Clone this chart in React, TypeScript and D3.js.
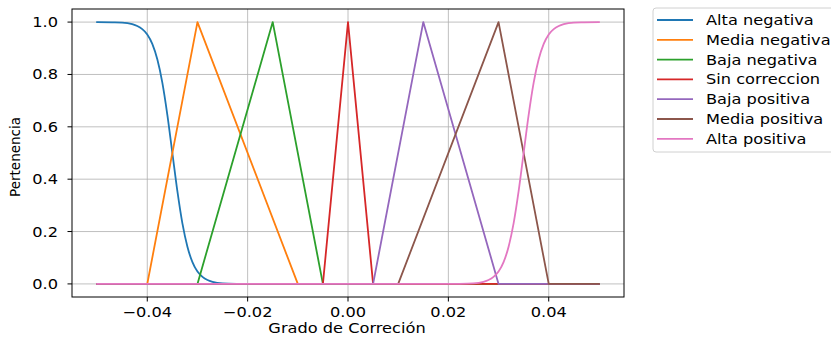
import React from "react";
import * as d3 from "d3";

// ---- data ----
const seriesNames = [
  "Alta negativa",
  "Media negativa",
  "Baja negativa",
  "Sin correccion",
  "Baja positiva",
  "Media positiva",
  "Alta positiva",
];
const seriesColors = ["#1f77b4", "#ff7f0e", "#2ca02c", "#d62728", "#9467bd", "#8c564b", "#e377c2"];

const altaNegX = [-0.05, -0.047, -0.045, -0.043, -0.042, -0.041, -0.04, -0.039, -0.038, -0.037, -0.036, -0.035, -0.034, -0.033, -0.032, -0.031, -0.03, -0.029, -0.028, -0.027, -0.025, -0.022, -0.02, 0.05];
const altaNegY = [1.0, 0.999, 0.998, 0.992, 0.985, 0.973, 0.953, 0.917, 0.858, 0.769, 0.646, 0.5, 0.354, 0.231, 0.142, 0.083, 0.047, 0.027, 0.015, 0.008, 0.002, 0.0004, 0.0001, 0.0];
const mediaNegX = [-0.05, -0.04, -0.03, -0.01, 0.05];
const mediaNegY = [0, 0, 1, 0, 0];
const bajaNegX = [-0.05, -0.03, -0.015, -0.005, 0.05];
const bajaNegY = [0, 0, 1, 0, 0];
const sinCorrX = [-0.05, -0.005, 0.0, 0.005, 0.05];
const sinCorrY = [0, 0, 1, 0, 0];
const bajaPosX = [-0.05, 0.005, 0.015, 0.03, 0.05];
const bajaPosY = [0, 0, 1, 0, 0];
const mediaPosX = [-0.05, 0.01, 0.03, 0.04, 0.05];
const mediaPosY = [0, 0, 1, 0, 0];
const altaPosX = [-0.05, 0.02, 0.022, 0.025, 0.027, 0.028, 0.029, 0.03, 0.031, 0.032, 0.033, 0.034, 0.035, 0.036, 0.037, 0.038, 0.039, 0.04, 0.041, 0.042, 0.043, 0.045, 0.047, 0.05];
const altaPosY = [0.0, 0.0001, 0.0004, 0.002, 0.008, 0.015, 0.027, 0.047, 0.083, 0.142, 0.231, 0.354, 0.5, 0.646, 0.769, 0.858, 0.917, 0.953, 0.973, 0.985, 0.992, 0.998, 0.999, 1.0];

const xTicks = [-0.04, -0.02, 0.0, 0.02, 0.04];
const xTickLabels = ["\u22120.04", "\u22120.02", "0.00", "0.02", "0.04"];
const yTicks = [0.0, 0.2, 0.4, 0.6, 0.8, 1.0];
const yTickLabels = ["0.0", "0.2", "0.4", "0.6", "0.8", "1.0"];
const xLabel = "Grado de Correción";
const yLabel = "Pertenencia";

const seriesX = [altaNegX, mediaNegX, bajaNegX, sinCorrX, bajaPosX, mediaPosX, altaPosX];
const seriesY = [altaNegY, mediaNegY, bajaNegY, sinCorrY, bajaPosY, mediaPosY, altaPosY];
const smoothSeries = [true, false, false, false, false, false, true];

// ---- layout ----
const W = 831;
const H = 337;
const L = 72, R = 624, T = 9, B = 297;
const SX = 1.2; // horizontal stretch of the picture's text
const FS = 13.5;

export default function App() {
  const x = d3.scaleLinear().domain([-0.055, 0.055]).range([L, R]);
  const y = d3.scaleLinear().domain([-0.05, 1.05]).range([B, T]);

  const lineLinear = d3.line<[number, number]>().x((d) => x(d[0])).y((d) => y(d[1]));
  const lineSmooth = d3
    .line<[number, number]>()
    .x((d) => x(d[0]))
    .y((d) => y(d[1]))
    .curve(d3.curveMonotoneX);

  const font = "DejaVu Sans, sans-serif";
  const legX = 653, legY = 8, legRowH = 19.8;

  return (
    <svg
      width={W}
      height={H}
      style={{ position: "fixed", left: 0, top: 0, background: "#fff" }}
      fontFamily={font}
    >
      <rect x={0} y={0} width={W} height={H} fill="#fff" />
      <defs>
        <clipPath id="clip">
          <rect x={L} y={T} width={R - L} height={B - T} />
        </clipPath>
      </defs>
      {/* grid */}
      {xTicks.map((t, i) => (
        <line key={"gx" + i} x1={x(t)} x2={x(t)} y1={T} y2={B} stroke="#b0b0b0" strokeWidth={0.8} />
      ))}
      {yTicks.map((t, i) => (
        <line key={"gy" + i} x1={L} x2={R} y1={y(t)} y2={y(t)} stroke="#b0b0b0" strokeWidth={0.8} />
      ))}
      {/* series */}
      <g clipPath="url(#clip)">
        {seriesX.map((xs, si) => {
          const pts = xs.map((v, k) => [v, seriesY[si][k]] as [number, number]);
          const gen = smoothSeries[si] ? lineSmooth : lineLinear;
          return (
            <path
              key={"s" + si}
              d={gen(pts) || ""}
              fill="none"
              stroke={seriesColors[si]}
              strokeWidth={1.8}
              strokeLinejoin="round"
              strokeLinecap="square"
            />
          );
        })}
      </g>
      {/* spines */}
      <rect x={L} y={T} width={R - L} height={B - T} fill="none" stroke="#000" strokeWidth={1} />
      {/* x ticks */}
      {xTicks.map((t, i) => (
        <g key={"xt" + i}>
          <line x1={x(t)} x2={x(t)} y1={B} y2={B + 4.5} stroke="#000" strokeWidth={1} />
          <text
            transform={`translate(${x(t)},${B + 20}) scale(${SX},1)`}
            textAnchor="middle"
            fontSize={FS}
            fill="#000"
          >
            {xTickLabels[i]}
          </text>
        </g>
      ))}
      {/* y ticks */}
      {yTicks.map((t, i) => (
        <g key={"yt" + i}>
          <line x1={L - 4.5} x2={L} y1={y(t)} y2={y(t)} stroke="#000" strokeWidth={1} />
          <text
            transform={`translate(${L - 14},${y(t) + 5}) scale(${SX},1)`}
            textAnchor="end"
            fontSize={FS}
            fill="#000"
          >
            {yTickLabels[i]}
          </text>
        </g>
      ))}
      {/* axis labels */}
      <text
        transform={`translate(${(L + R) / 2 - 1},${333}) scale(${SX},1)`}
        textAnchor="middle"
        fontSize={FS}
        fill="#000"
      >
        {xLabel}
      </text>
      <text
        transform={`translate(${20},${(T + B) / 2 + 4}) rotate(-90)`}
        textAnchor="middle"
        fontSize={FS}
        fill="#000"
      >
        {yLabel}
      </text>
      {/* legend */}
      <rect
        x={legX}
        y={legY}
        width={200}
        height={144}
        rx={3}
        fill="#fff"
        fillOpacity={0.8}
        stroke="#d0d0d0"
        strokeWidth={1}
      />
      {seriesNames.map((n, i) => {
        const cy = legY + 12 + i * legRowH;
        return (
          <g key={"lg" + i}>
            <line x1={657} x2={693} y1={cy} y2={cy} stroke={seriesColors[i]} strokeWidth={1.8} />
            <text
              transform={`translate(${706},${cy + 5}) scale(${SX},1)`}
              fontSize={FS}
              fill="#000"
            >
              {n}
            </text>
          </g>
        );
      })}
    </svg>
  );
}
